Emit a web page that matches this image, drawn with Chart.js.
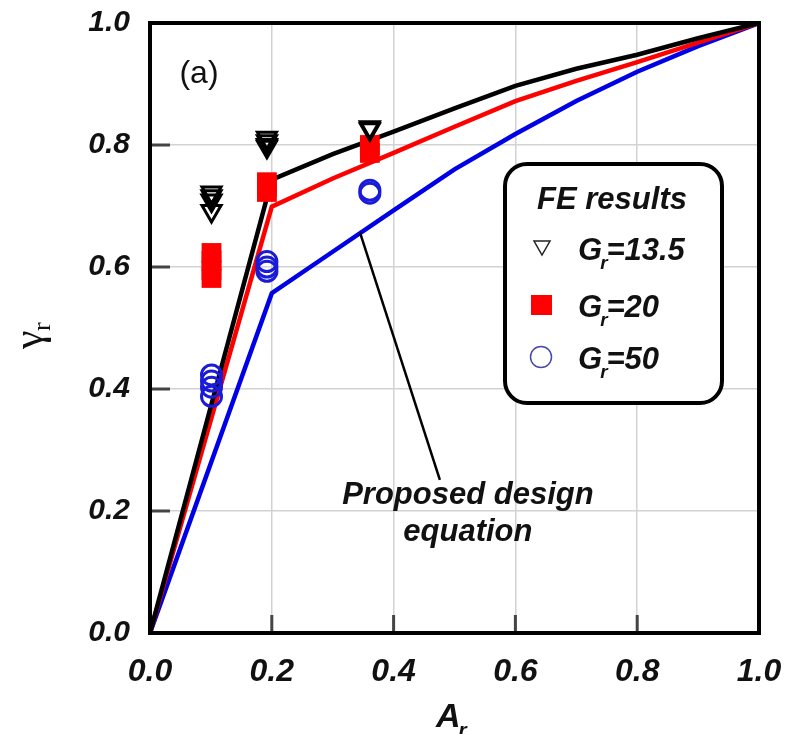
<!DOCTYPE html>
<html>
<head>
<meta charset="utf-8">
<script src="https://cdn.jsdelivr.net/npm/chart.js@4.4.0/dist/chart.umd.min.js"></script>
<style>
  html, body { margin: 0; padding: 0; background: #fff; }
</style>
</head>
<body>
<canvas id="chart" width="786" height="734"></canvas>
<script>
// Proposed design equation curves (A_r -> gamma_r)
const curveX = [0, 0.2, 0.3, 0.4, 0.5, 0.6, 0.7, 0.8, 0.9, 1.0];
const eqG135 = [0, 0.743, 0.785, 0.822, 0.86, 0.897, 0.925, 0.948, 0.975, 1.0];
const eqG20 = [0, 0.699, 0.745, 0.787, 0.83, 0.872, 0.905, 0.936, 0.968, 1.0];
const eqG50 = [0, 0.557, 0.625, 0.693, 0.76, 0.818, 0.872, 0.92, 0.962, 1.0];

// FE results
const feG135X = [0.101, 0.101, 0.101, 0.101, 0.192, 0.192, 0.192, 0.192, 0.361, 0.361];
const feG135Y = [0.722, 0.716, 0.709, 0.692, 0.812, 0.806, 0.80, 0.797, 0.829, 0.826];
const feG20X = [0.101, 0.101, 0.101, 0.101, 0.192, 0.192, 0.192, 0.361, 0.361];
const feG20Y = [0.623, 0.61, 0.595, 0.582, 0.739, 0.73, 0.723, 0.80, 0.787];
const feG50X = [0.101, 0.101, 0.101, 0.101, 0.192, 0.192, 0.192, 0.361, 0.361];
const feG50Y = [0.423, 0.413, 0.403, 0.388, 0.609, 0.60, 0.593, 0.726, 0.721];

const tickValues = [0, 0.2, 0.4, 0.6, 0.8, 1.0];

const toPts = (xs, ys) => xs.map((x, i) => ({ x: x, y: ys[i] }));

const FONT = '"Liberation Sans", Arial, sans-serif';

function subLabel(ctx, x, y, main, sub, rest, size) {
    ctx.font = `italic bold ${size}px ${FONT}`;
    ctx.fillText(main, x, y);
    let cx = x + ctx.measureText(main).width - size * 0.06;
    ctx.font = `italic bold ${Math.round(size * 0.62)}px ${FONT}`;
    ctx.fillText(sub, cx, y + size * 0.28);
    cx += ctx.measureText(sub).width - size * 0.04;
    if (rest) {
        ctx.font = `italic bold ${size}px ${FONT}`;
        ctx.fillText(rest, cx, y);
    }
}

// keep tick labels from pushing the plot area around
function fixScale(s, size) {
    if (s.isHorizontal()) s.height = size; else s.width = size;
    s.paddingLeft = 0; s.paddingRight = 0; s.paddingTop = 0; s.paddingBottom = 0;
}

const decorations = {
    id: 'decorations',
    afterDatasetsDraw(chart) {
        const { ctx, chartArea: a, scales: { x, y } } = chart;
        ctx.save();

        // inward tick marks
        ctx.strokeStyle = '#444';
        ctx.lineWidth = 3;
        tickValues.slice(1, -1).forEach(v => {
            const px = x.getPixelForValue(v);
            ctx.beginPath(); ctx.moveTo(px, a.bottom); ctx.lineTo(px, a.bottom - 18); ctx.stroke();
            const py = y.getPixelForValue(v);
            ctx.beginPath(); ctx.moveTo(a.left, py); ctx.lineTo(a.left + 20, py); ctx.stroke();
        });

        // frame
        ctx.strokeStyle = '#000';
        ctx.lineWidth = 4;
        ctx.strokeRect(a.left, a.top, a.right - a.left, a.bottom - a.top);

        // panel tag
        ctx.fillStyle = '#111';
        ctx.font = `32px ${FONT}`;
        ctx.textAlign = 'center';
        ctx.fillText('(a)', 199, 83);

        // leader line to the design curves
        ctx.strokeStyle = '#000';
        ctx.lineWidth = 2.5;
        ctx.beginPath();
        ctx.moveTo(x.getPixelForValue(0.345), y.getPixelForValue(0.656));
        ctx.lineTo(x.getPixelForValue(0.476), y.getPixelForValue(0.251));
        ctx.stroke();

        ctx.font = `italic bold 31px ${FONT}`;
        ctx.fillText('Proposed design', x.getPixelForValue(0.522), 504);
        ctx.fillText('equation', x.getPixelForValue(0.522), 541);

        // legend box
        ctx.fillStyle = '#fff';
        ctx.lineWidth = 4;
        ctx.beginPath();
        ctx.roundRect(505, 164, 217, 239, 22);
        ctx.fill();
        ctx.stroke();

        ctx.fillStyle = '#111';
        ctx.font = `italic bold 31px ${FONT}`;
        ctx.fillText('FE results', 612, 209);

        ctx.textAlign = 'left';
        subLabel(ctx, 578, 260, 'G', 'r', '=13.5', 31);
        subLabel(ctx, 578, 317, 'G', 'r', '=20', 31);
        subLabel(ctx, 578, 369, 'G', 'r', '=50', 31);

        // legend markers
        ctx.strokeStyle = '#222';
        ctx.lineWidth = 1.5;
        ctx.beginPath();
        ctx.moveTo(534, 241); ctx.lineTo(550, 241); ctx.lineTo(542, 255); ctx.closePath();
        ctx.stroke();
        ctx.fillStyle = '#f00';
        ctx.fillRect(531, 295, 21, 20);
        ctx.strokeStyle = '#4848b0';
        ctx.beginPath();
        ctx.arc(541, 357, 10.5, 0, Math.PI * 2);
        ctx.stroke();

        // axis titles
        ctx.fillStyle = '#111';
        subLabel(ctx, 436, 727, 'A', 'r', '', 34);

        ctx.translate(42, 333);
        ctx.rotate(-Math.PI / 2);
        ctx.font = `42px "Liberation Serif", "DejaVu Serif", serif`;
        ctx.fillText('\u03B3', -16, 0);
        ctx.font = `26px "Liberation Serif", "DejaVu Serif", serif`;
        ctx.fillText('r', 2, 8);

        ctx.restore();
    }
};

const tickFont = (size) => ({ family: FONT, size: size, weight: 'bold', style: 'italic' });

new Chart(document.getElementById('chart').getContext('2d'), {
    type: 'scatter',
    data: {
        datasets: [
            {
                label: 'Gr=13.5',
                data: toPts(feG135X, feG135Y),
                pointStyle: 'triangle',
                rotation: 180,
                pointRadius: 11,
                borderColor: '#000',
                backgroundColor: 'rgba(0,0,0,0)',
                borderWidth: 3,
            },
            {
                label: 'Gr=20',
                data: toPts(feG20X, feG20Y),
                pointStyle: 'rect',
                pointRadius: 14,
                borderColor: '#f00',
                backgroundColor: '#f00',
                borderWidth: 0,
            },
            {
                label: 'Gr=50',
                data: toPts(feG50X, feG50Y),
                pointStyle: 'circle',
                pointRadius: 10,
                borderColor: '#1a1ad8',
                backgroundColor: 'rgba(0,0,0,0)',
                borderWidth: 3,
            },
            {
                label: 'Design Gr=13.5',
                data: toPts(curveX, eqG135),
                showLine: true,
                pointRadius: 0,
                borderColor: '#000',
                borderWidth: 4.5,
            },
            {
                label: 'Design Gr=20',
                data: toPts(curveX, eqG20),
                showLine: true,
                pointRadius: 0,
                borderColor: '#f00',
                borderWidth: 4.5,
            },
            {
                label: 'Design Gr=50',
                data: toPts(curveX, eqG50),
                showLine: true,
                pointRadius: 0,
                borderColor: '#0000e6',
                borderWidth: 4.5,
            },
        ],
    },
    options: {
        responsive: false,
        animation: false,
        devicePixelRatio: 1,
        layout: { padding: { top: 23, right: 27, left: 0, bottom: 0 } },
        plugins: { legend: { display: false }, tooltip: { enabled: false } },
        scales: {
            x: {
                type: 'linear',
                min: 0,
                max: 1,
                afterFit: (s) => fixScale(s, 101),
                afterBuildTicks: (s) => { s.ticks = tickValues.map(v => ({ value: v })); },
                grid: { color: '#d2d2d2', lineWidth: 1.5, drawTicks: false },
                border: { display: false },
                ticks: {
                    padding: 20,
                    color: '#111',
                    font: tickFont(32),
                    maxRotation: 0,
                    callback: (v) => v.toFixed(1),
                },
            },
            y: {
                type: 'linear',
                min: 0,
                max: 1,
                afterFit: (s) => fixScale(s, 150),
                afterBuildTicks: (s) => { s.ticks = tickValues.map(v => ({ value: v })); },
                grid: { color: '#d2d2d2', lineWidth: 1.5, drawTicks: false },
                border: { display: false },
                ticks: {
                    padding: 20,
                    color: '#111',
                    font: tickFont(30),
                    callback: (v) => v.toFixed(1),
                },
            },
        },
    },
    plugins: [decorations],
});
</script>
</body>
</html>
